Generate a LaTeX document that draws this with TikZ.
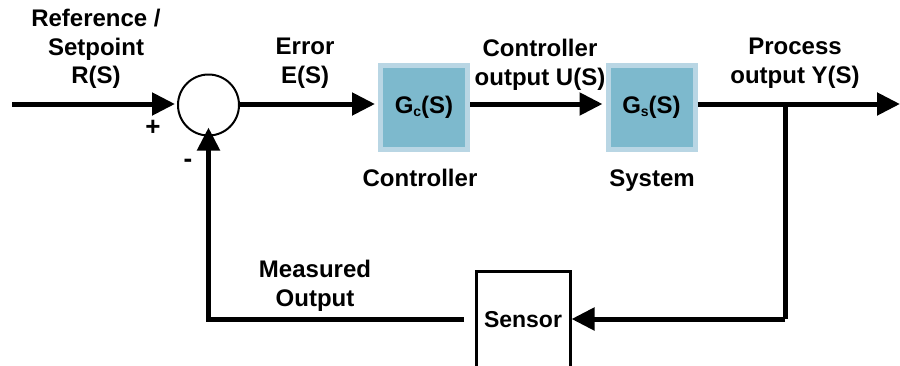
\documentclass[tikz,border=0pt]{standalone}
\usepackage{fontspec}
\setmainfont{Liberation Sans}
\usetikzlibrary{arrows.meta}
\definecolor{blockfill}{HTML}{7DB9CD}
\definecolor{blockrim}{HTML}{B9D6E4}
\tikzset{
  sig/.style={line width=5pt, -{Triangle[length=23pt,width=22pt]}},
  wire/.style={line width=5pt},
  lbl/.style={font=\fontsize{24}{28.5}\selectfont\bfseries, align=center, inner sep=0pt},
  tfblock/.style={draw=blockrim, line width=5pt, fill=blockfill,
    minimum width=87pt, minimum height=84pt, inner sep=0pt,
    font=\fontsize{24}{28}\selectfont\bfseries},
  sumnode/.style={circle, draw, line width=2pt, minimum size=61pt, inner sep=0pt},
  sensbox/.style={draw, line width=3pt, minimum width=94pt, minimum height=98pt,
    inner sep=0pt, font=\fontsize{23}{26}\selectfont\bfseries},
  signlbl/.style={font=\fontsize{26}{26}\selectfont\bfseries, inner sep=0pt}
}
\newcommand{\subsc}[1]{\raisebox{-0.25ex}{\fontsize{14}{14}\selectfont #1}}
\begin{document}
\begin{tikzpicture}[x=1pt,y=-1pt]
  \useasboundingbox (0,0) rectangle (900,365);
  \clip (0,0) rectangle (900,365);

  % blocks
  \node[sumnode] (sum) at (208.5,105) {};
  \node[tfblock] (gc) at (424,107.5) {G\subsc{c}(S)};
  \node[tfblock] (gs) at (651.5,107.5) {G\subsc{s}(S)};
  \node[sensbox] (sensor) at (523,320) {Sensor};

  % auxiliary points
  \coordinate (in) at (12,104);
  \coordinate (out) at (900,104);
  \coordinate (branch) at (785,104);
  \coordinate (corner) at (785,319);
  \coordinate (fbcorner) at (208.5,319);
  \coordinate (fbstart) at (464,319);

  % forward path
  \draw[sig, shorten >=2pt] (in) -- (sum.west |- in);
  \draw[sig] (sum.east |- in) -- ([xshift=-3pt]gc.west |- in);
  \draw[sig] (gc.east |- in) -- ([xshift=-3pt]gs.west |- in);
  \draw[sig] (gs.east |- in) -- (out);

  % feedback path
  \draw[wire] (branch) -- (corner);
  \draw[sig] (corner) -- (sensor.east |- corner);
  \draw[sig, line join=miter] (fbstart) -- (fbcorner) -- ([yshift=9pt]sum.south);

  % labels
  \node[lbl] (lref) at (96,49) {Reference /\\Setpoint\\R(S)};
  \node[lbl] (lerr) at (305,63) {Error\\E(S)};
  \node[lbl] (lu) at (540,65) {Controller\\output U(S)};
  \node[lbl] (ly) at (795,63) {Process\\output Y(S)};
  \node[lbl, anchor=base] (lctl) at (420,186) {Controller};
  \node[lbl, anchor=base] (lsys) at (652,186) {System};
  \node[lbl] (lmeas) at (315,286) {Measured\\Output};
  \node[signlbl] (plus) at (153,128) {+};
  \node[signlbl] (minus) at (188,163) {-};
\end{tikzpicture}
\end{document}
